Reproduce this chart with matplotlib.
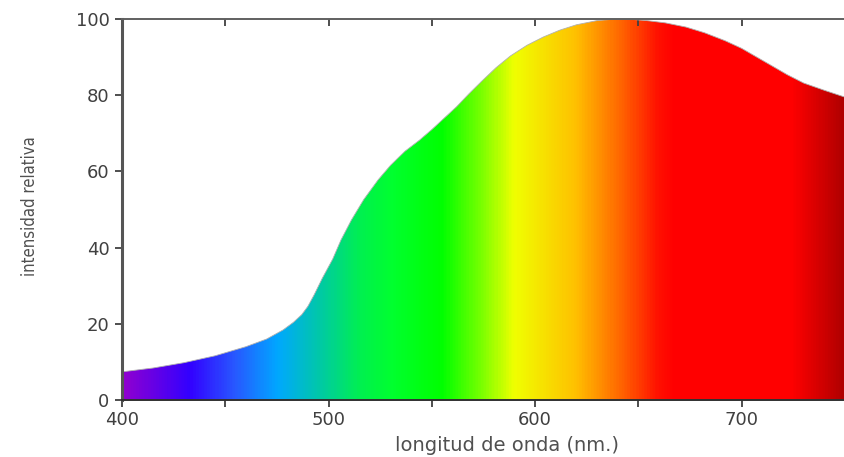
import numpy as np
import matplotlib
matplotlib.use("Agg")
from matplotlib import pyplot as plt
from matplotlib.colors import LinearSegmentedColormap
from matplotlib.patches import Polygon
from matplotlib.ticker import MultipleLocator, FuncFormatter

# spectrum
wavelength = [400, 415, 430, 445, 460, 470, 478, 483, 487, 490, 493, 497,
              502, 506, 511, 517, 524, 530, 537, 544, 550, 556, 562, 568,
              574, 581, 588, 596, 604, 612, 620, 630, 639, 647, 654, 663,
              673, 682, 692, 700, 707, 715, 722, 730, 740, 750]
intensity = [7.4, 8.4, 9.8, 11.6, 14.0, 16.0, 18.4, 20.4, 22.4, 24.6, 27.6,
             32.0, 37.0, 42.0, 47.2, 52.6, 57.8, 61.6, 65.3, 68.2, 71.0,
             74.0, 77.0, 80.4, 83.6, 87.2, 90.3, 93.1, 95.3, 97.1, 98.5,
             99.6, 100.0, 99.9, 99.6, 99.0, 97.9, 96.4, 94.3, 92.3, 90.1,
             87.6, 85.4, 83.2, 81.3, 79.5]

# colour stops of the rainbow fill (wavelength, colour)
stop_wl = [400, 432, 454, 475, 495, 515, 530, 555, 575, 590, 620, 643, 660,
           668, 725, 750]
stop_col = ['#9000d0', '#3300ff', '#2858ff', '#00a8ff', '#00c8a8', '#00f050',
            '#00ff30', '#00ff00', '#80ff00', '#f0ff00', '#ffc000', '#ff6000',
            '#ff1000', '#ff0000', '#ff0000', '#b00000']

xmin, xmax = 400, 750
cmap = LinearSegmentedColormap.from_list(
    'spectrum',
    [((w - xmin) / (xmax - xmin), c) for w, c in zip(stop_wl, stop_col)])

fig = plt.figure(figsize=(8.45, 4.57), dpi=100)
ax = fig.add_axes([0.1444, 0.1247, 0.8556, 0.8336])

im = ax.imshow(np.linspace(0, 1, 800)[None, :], extent=[xmin, xmax, 0, 100],
               aspect='auto', cmap=cmap, origin='lower', zorder=1,
               interpolation='bilinear')
verts = list(zip(wavelength, intensity)) + [(xmax, 0), (xmin, 0)]
shape = Polygon(verts, closed=True, facecolor='none', edgecolor='#b0b0b0',
                lw=0.6, zorder=2)
ax.add_patch(shape)
im.set_clip_path(shape)

ax.set_xlim(xmin, xmax)
ax.set_ylim(0, 100)

ax.xaxis.set_major_locator(MultipleLocator(50))
ax.xaxis.set_major_formatter(
    FuncFormatter(lambda v, p: '%d' % v if v % 100 == 0 else ''))
ax.yaxis.set_major_locator(MultipleLocator(20))

ax.spines['right'].set_visible(False)
ax.spines['left'].set_linewidth(2.2)
ax.spines['left'].set_color('#555555')
ax.spines['top'].set_linewidth(1.4)
ax.spines['top'].set_color('#606060')
ax.spines['bottom'].set_linewidth(1.4)
ax.spines['bottom'].set_color('#303030')

ax.tick_params(axis='x', which='both', top=True, direction='out', length=5,
               width=1.3, color='#404040', labelsize=13, labelcolor='#404040',
               pad=3)
ax.tick_params(axis='x', which='both', top=True, labeltop=False)
ax.tick_params(axis='y', direction='out', length=5, width=1.3,
               color='#404040', labelsize=13, labelcolor='#404040', pad=4)
for t in ax.xaxis.get_ticklines()[1::2]:
    t.set_marker(3)

ax.set_xlabel('longitud de onda (nm.)', fontsize=14, color='#505050')
ax.xaxis.set_label_coords(0.532, -0.095)
ax.set_ylabel('intensidad relativa', fontsize=12, color='#505050',
              family=['Liberation Sans Narrow', 'DejaVu Sans'],
              fontstretch='condensed')
ax.yaxis.set_label_coords(-0.115, 0.51)

fig.savefig('out.png', dpi=100)
